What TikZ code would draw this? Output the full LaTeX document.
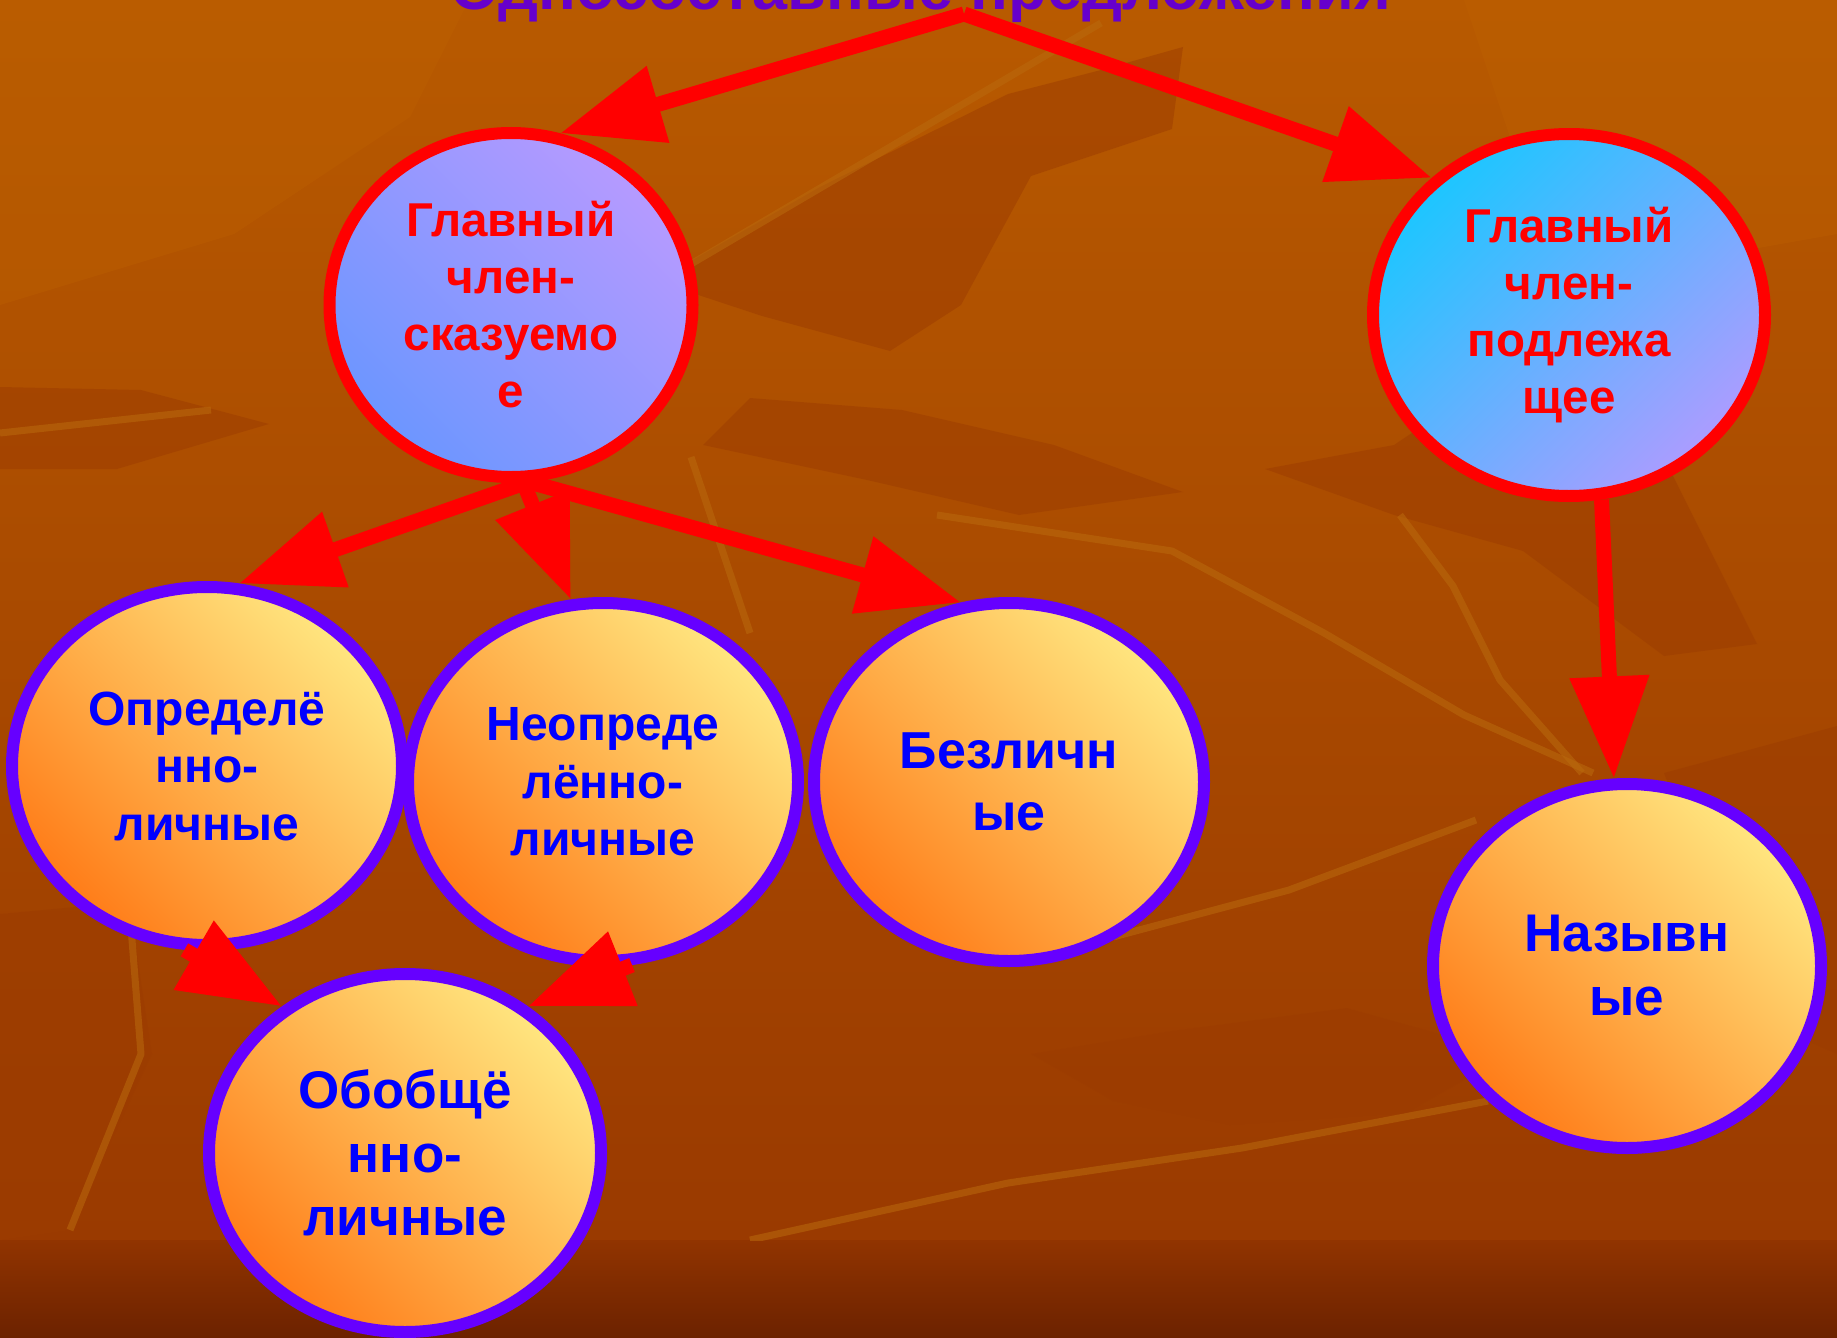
\documentclass[tikz,border=0pt]{standalone}
\usepackage{fontspec}
\setmainfont{Liberation Sans}
\usetikzlibrary{shapes.geometric,arrows.meta}
\definecolor{bgtop}{HTML}{B85A00}
\definecolor{bgbot}{HTML}{9A3A00}
\definecolor{bandtop}{HTML}{913400}
\definecolor{bandbot}{HTML}{6C2200}
\definecolor{darkp}{HTML}{9C3C00}
\definecolor{lightp}{HTML}{BE6200}
\definecolor{streak}{HTML}{BA6A0E}
\definecolor{titlec}{HTML}{6600CC}
\definecolor{rim}{HTML}{6600FF}
\definecolor{orlight}{HTML}{FFE680}
\definecolor{ordark}{HTML}{FF7C18}
\definecolor{laven}{HTML}{B69AFF}
\definecolor{blu}{HTML}{6C96FF}
\definecolor{cyanc}{HTML}{1CC6FF}
\definecolor{laven2}{HTML}{AC9CFF}
\definecolor{txtblue}{HTML}{0000FF}
\begin{document}
\begin{tikzpicture}[x=1pt,y=-1pt,
  redell/.style={ellipse, draw=red, line width=12pt, inner sep=0pt, align=center,
    text=red, font={\bfseries\fontsize{47.5}{57}\selectfont}},
  orell/.style={ellipse, draw=rim, line width=12pt, inner sep=0pt, align=center,
    text=txtblue, top color=orlight, bottom color=ordark, shading angle=-45},
  arr/.style={draw=red, line width=15pt, -{Triangle[length=102pt,width=76pt]}},
  dpoly/.style={fill=darkp, fill opacity=0.5},
  lpoly/.style={fill=lightp, fill opacity=0.35},
  strk/.style={draw=streak, line width=7pt, draw opacity=0.55, line join=round}]
\useasboundingbox (0,0) rectangle (1837,1338);
\clip (0,0) rectangle (1837,1338);
% background
\fill[top color=bgtop, bottom color=bgbot] (0,0) rectangle (1837,1240);
\fill[top color=bandtop, bottom color=bandbot] (0,1240) rectangle (1837,1338);
\begin{scope}
\clip (0,0) rectangle (1837,1240);
\fill[lpoly] (0,0) -- (469,0) -- (410,117) -- (234,234) -- (0,305) -- cycle;
\fill[lpoly] (1464,0) -- (1837,0) -- (1837,234) -- (1640,269) -- (1523,176) -- cycle;
\fill[dpoly] (656,281) -- (820,187) -- (1008,94) -- (1101,70) -- (1183,47) -- (1172,129) -- (1031,176) -- (961,305) -- (890,351) -- (762,316) -- cycle;
\fill[dpoly] (0,387) -- (141,390) -- (269,424) -- (117,469) -- (0,469) -- cycle;
\fill[dpoly] (1265,469) -- (1394,445) -- (1464,398) -- (1558,340) -- (1640,410) -- (1757,644) -- (1664,656) -- (1523,551) -- (1394,515) -- cycle;
\fill[dpoly] (703,445) -- (867,480) -- (1019,515) -- (1183,492) -- (1054,445) -- (902,410) -- (750,398) -- cycle;
\fill[dpoly] (1031,1054) -- (1172,1031) -- (1347,1008) -- (1511,1054) -- (1406,1113) -- (1230,1125) -- (1113,1101) -- cycle;
\fill[dpoly] (0,914) -- (129,902) -- (152,1054) -- (70,1230) -- (0,1240) -- cycle;
\fill[dpoly] (1664,773) -- (1837,726) -- (1837,1054) -- (1757,1019) -- cycle;
\draw[strk] (691,264) -- (1101,23);
\draw[strk] (937,515) -- (1172,551) -- (1324,633) -- (1464,715) -- (1593,773);
\draw[strk] (1400,515) -- (1453,586) -- (1500,680) -- (1582,773);
\draw[strk] (0,433) -- (211,410);
\draw[strk] (750,1240) -- (1008,1183) -- (1242,1148) -- (1488,1101);
\draw[strk] (1113,937) -- (1289,890) -- (1476,820);
\draw[strk] (129,902) -- (141,1054) -- (70,1230);
\draw[strk] (691,457) -- (750,633);
\end{scope}
% title
\node[font={\bfseries\fontsize{63}{70}\selectfont}, text=titlec, anchor=base, inner sep=0pt]
  (title) at (921,10) {Односоставные предложения};
\coordinate (top) at (964,14);
% nodes
\node[redell, minimum width=363pt, minimum height=344pt,
  top color=laven, bottom color=blu, shading angle=-45]
  (n1) at (511,305) {Главный\\член-\\сказуемо\\е};
\node[redell, minimum width=392pt, minimum height=362pt,
  top color=cyanc, bottom color=laven2, shading angle=45]
  (n2) at (1569,315) {Главный\\член-\\подлежа\\щее};
\node[orell, minimum width=390pt, minimum height=358pt,
  font={\bfseries\fontsize{48}{57.5}\selectfont}]
  (def) at (207,766) {Определё\\нно-\\личные};
\node[orell, minimum width=390pt, minimum height=358pt,
  font={\bfseries\fontsize{48}{57.5}\selectfont}]
  (neo) at (603,782) {Неопреде\\лённо-\\личные};
\node[orell, minimum width=390pt, minimum height=358pt,
  font={\bfseries\fontsize{52}{62}\selectfont}]
  (bez) at (1009,782) {Безличн\\ые};
\node[orell, minimum width=388pt, minimum height=364pt,
  font={\bfseries\fontsize{53}{64}\selectfont}]
  (naz) at (1627,966) {Назывн\\ые};
\node[orell, minimum width=392pt, minimum height=358pt,
  font={\bfseries\fontsize{53}{63.5}\selectfont}]
  (obo) at (405,1153) {Обобщё\\нно-\\личные};
% arrows
\draw[arr] (top) -- (n1.74.5);
\draw[arr] (top) -- (n2.135);
\draw[arr] (n1.-85) -- (def.80);
\draw[arr] (n1.-86) -- (neo.100);
\draw[arr] (n1.-84) -- (bez.105);
\draw[arr] (n2.-80) -- (naz.94);
\draw[arr] (def.-97) -- (obo.130);
\draw[arr] (neo.-81) -- (obo.50);
\end{tikzpicture}
\end{document}
